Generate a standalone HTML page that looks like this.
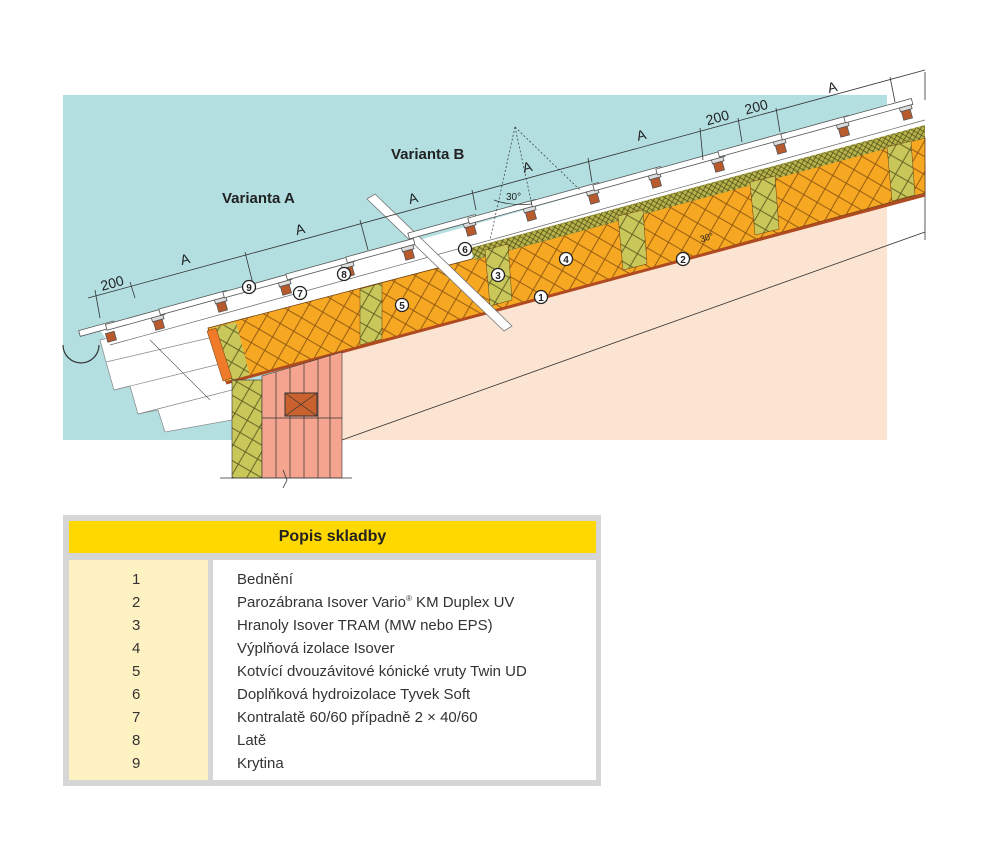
<!DOCTYPE html>
<html><head><meta charset="utf-8"><style>
html,body{margin:0;padding:0;background:#fff;width:1000px;height:850px;overflow:hidden}
svg{position:absolute;left:0;top:0}
.tb{position:absolute;left:63px;top:515px;width:538px;height:271px;background:#d6d6d6}
.hd{position:absolute;left:6px;top:6px;width:527px;height:32px;background:#ffd800;font:bold 16px "Liberation Sans",sans-serif;color:#222;text-align:center;line-height:32px}
.lc{position:absolute;left:6px;top:45px;width:139px;height:220px;background:#fff2c2}
.rc{position:absolute;left:150px;top:45px;width:383px;height:220px;background:#fff}
.row{position:absolute;font:15px "Liberation Sans",sans-serif;color:#333;height:23px;line-height:23px}
</style></head><body>
<svg width="1000" height="850" viewBox="0 0 1000 850">
<defs>
<pattern id="ins" width="22" height="22" patternUnits="userSpaceOnUse" patternTransform="rotate(-15)">
<rect width="22" height="22" fill="#f7a823"/>
<path d="M0,0 L22,22 M22,0 L0,22" stroke="#8a5310" stroke-width="0.9"/>
</pattern>
<pattern id="grn" width="20" height="20" patternUnits="userSpaceOnUse" patternTransform="rotate(-15)">
<rect width="20" height="20" fill="#c9c65a"/>
<path d="M0,0 L20,20 M20,0 L0,20" stroke="#5a5a20" stroke-width="0.9"/>
</pattern>
<pattern id="gth" width="6" height="6" patternUnits="userSpaceOnUse" patternTransform="rotate(-15)">
<rect width="6" height="6" fill="#b7b34a"/>
<path d="M0,0 L6,6 M6,0 L0,6" stroke="#4a4a18" stroke-width="0.7"/>
</pattern>
</defs>
<rect x="63" y="95" width="824" height="345" fill="#b3dfe1"/>
<polygon points="342,350 887,206 887,440 342,440" fill="#fbe4d2"/>
<line x1="342" y1="440" x2="925" y2="232" stroke="#333" stroke-width="0.8"/>
<line x1="925" y1="165" x2="925" y2="240" stroke="#333" stroke-width="0.8"/>
<polygon points="100,340 215,312 236,378 232,420 165,432 158,410 138,414 130,386 114,390 106,362" fill="#fff" stroke="#888" stroke-width="0.7"/>
<line x1="106" y1="362" x2="222" y2="335" stroke="#888" stroke-width="0.7"/>
<line x1="114" y1="390" x2="228" y2="362" stroke="#888" stroke-width="0.7"/>
<line x1="138" y1="414" x2="232" y2="390" stroke="#888" stroke-width="0.7"/>
<line x1="150" y1="340" x2="210" y2="400" stroke="#555" stroke-width="0.6"/>
<polygon points="100,330 925,97 925,128 474,250 470,262 215,327 205,332 110,345" fill="#fff"/>
<line x1="110" y1="345" x2="925" y2="120" stroke="#666" stroke-width="0.7"/>
<polygon points="208,328 472,259 482,250 925,138 925,193 240,380 226,382" fill="url(#ins)" stroke="#6b3d10" stroke-width="0.8"/>
<polygon points="470,248 925,125 925,138 475,260" fill="url(#gth)"/>
<polygon points="212,328 236,322 250,376 230,382" fill="url(#grn)"/>
<polygon points="360,289 382,283 382,339 360,345" fill="url(#grn)" stroke="#6b3d10" stroke-width="0.5"/>
<polygon points="485,250 508,244 512,300 490,306" fill="url(#grn)" stroke="#6b3d10" stroke-width="0.5"/>
<polygon points="618,216 643,210 647,264 623,270" fill="url(#grn)" stroke="#6b3d10" stroke-width="0.5"/>
<polygon points="750,182 775,176 779,229 755,235" fill="url(#grn)" stroke="#6b3d10" stroke-width="0.5"/>
<polygon points="887,147 911,141 915,195 892,201" fill="url(#grn)" stroke="#6b3d10" stroke-width="0.5"/>
<line x1="226" y1="383" x2="925" y2="195" stroke="#b04a20" stroke-width="3"/>
<polygon points="207,331 216,328 232,378 223,381" fill="#ef7a2a" stroke="#6b3d10" stroke-width="0.5"/>
<rect x="232" y="380" width="30" height="98" fill="url(#grn)" stroke="#333" stroke-width="0.6"/>
<polygon points="262,376 342,352 342,478 262,478" fill="#f4a48f" stroke="#333" stroke-width="0.6"/>
<g stroke="#333" stroke-width="0.7">
<line x1="276" y1="372" x2="276" y2="478"/><line x1="290" y1="368" x2="290" y2="478"/><line x1="304" y1="364" x2="304" y2="478"/><line x1="318" y1="359" x2="318" y2="478"/><line x1="330" y1="355" x2="330" y2="478"/>
<line x1="262" y1="418" x2="342" y2="418"/>
<line x1="220" y1="478" x2="352" y2="478"/>
</g>
<rect x="285" y="393" width="32" height="23" fill="#c9622e" stroke="#333"/>
<path d="M285,393 L317,416 M317,393 L285,416" stroke="#333" stroke-width="0.7"/>
<path d="M283,470 L287,480 L283,488" fill="none" stroke="#333" stroke-width="0.8"/>
<polygon points="367,199 375,194 512,326 504,331" fill="#fff" stroke="#777" stroke-width="0.8"/>
<path d="M63,345 A18,18 0 0 0 99,345" fill="none" stroke="#333" stroke-width="1.2"/>
<g stroke="#555" stroke-width="0.8">
<g transform="translate(107,328) rotate(-15.4)"><rect x="-28" y="-5" width="36" height="6" fill="#fff"/><rect x="-3" y="5" width="9" height="9" fill="#b85a2c"/></g>
<g transform="translate(155,316) rotate(-15.4)"><rect x="-50" y="-5" width="60" height="6" fill="#fff"/><rect x="-4" y="1" width="12" height="4" fill="#ddd"/><rect x="-3" y="5" width="9" height="9" fill="#b85a2c"/></g>
<g transform="translate(218,298) rotate(-15.4)"><rect x="-60" y="-5" width="70" height="6" fill="#fff"/><rect x="-4" y="1" width="12" height="4" fill="#ddd"/><rect x="-3" y="5" width="9" height="9" fill="#b85a2c"/></g>
<g transform="translate(282,281) rotate(-15.4)"><rect x="-60" y="-5" width="70" height="6" fill="#fff"/><rect x="-4" y="1" width="12" height="4" fill="#ddd"/><rect x="-3" y="5" width="9" height="9" fill="#b85a2c"/></g>
<g transform="translate(345,263) rotate(-15.4)"><rect x="-60" y="-5" width="70" height="6" fill="#fff"/><rect x="-4" y="1" width="12" height="4" fill="#ddd"/><rect x="-3" y="5" width="9" height="9" fill="#b85a2c"/></g>
<g transform="translate(405,246) rotate(-15.4)"><rect x="-60" y="-5" width="70" height="6" fill="#fff"/><rect x="-4" y="1" width="12" height="4" fill="#ddd"/><rect x="-3" y="5" width="9" height="9" fill="#b85a2c"/></g>
<g transform="translate(467,222) rotate(-15.4)"><rect x="-60" y="-5" width="70" height="6" fill="#fff"/><rect x="-4" y="1" width="12" height="4" fill="#ddd"/><rect x="-3" y="5" width="9" height="9" fill="#b85a2c"/></g>
<g transform="translate(527,207) rotate(-15.4)"><rect x="-60" y="-5" width="70" height="6" fill="#fff"/><rect x="-4" y="1" width="12" height="4" fill="#ddd"/><rect x="-3" y="5" width="9" height="9" fill="#b85a2c"/></g>
<g transform="translate(590,190) rotate(-15.4)"><rect x="-60" y="-5" width="70" height="6" fill="#fff"/><rect x="-4" y="1" width="12" height="4" fill="#ddd"/><rect x="-3" y="5" width="9" height="9" fill="#b85a2c"/></g>
<g transform="translate(652,174) rotate(-15.4)"><rect x="-60" y="-5" width="70" height="6" fill="#fff"/><rect x="-4" y="1" width="12" height="4" fill="#ddd"/><rect x="-3" y="5" width="9" height="9" fill="#b85a2c"/></g>
<g transform="translate(715,158) rotate(-15.4)"><rect x="-60" y="-5" width="70" height="6" fill="#fff"/><rect x="-4" y="1" width="12" height="4" fill="#ddd"/><rect x="-3" y="5" width="9" height="9" fill="#b85a2c"/></g>
<g transform="translate(777,140) rotate(-15.4)"><rect x="-60" y="-5" width="70" height="6" fill="#fff"/><rect x="-4" y="1" width="12" height="4" fill="#ddd"/><rect x="-3" y="5" width="9" height="9" fill="#b85a2c"/></g>
<g transform="translate(840,123) rotate(-15.4)"><rect x="-60" y="-5" width="70" height="6" fill="#fff"/><rect x="-4" y="1" width="12" height="4" fill="#ddd"/><rect x="-3" y="5" width="9" height="9" fill="#b85a2c"/></g>
<g transform="translate(903,106) rotate(-15.4)"><rect x="-60" y="-5" width="70" height="6" fill="#fff"/><rect x="-4" y="1" width="12" height="4" fill="#ddd"/><rect x="-3" y="5" width="9" height="9" fill="#b85a2c"/></g>
</g>
<g stroke="#333" stroke-width="0.8" fill="none">
<line x1="88" y1="298" x2="925" y2="70"/>
<line x1="95" y1="290" x2="100" y2="318"/><line x1="130" y1="282" x2="135" y2="298"/>
<line x1="245" y1="252" x2="253" y2="284"/><line x1="360" y1="220" x2="368" y2="250"/>
<line x1="472" y1="190" x2="476" y2="210"/><line x1="588" y1="158" x2="592" y2="182"/>
<line x1="700" y1="128" x2="703" y2="160"/><line x1="738" y1="118" x2="742" y2="142"/>
<line x1="776" y1="108" x2="780" y2="132"/><line x1="890" y1="77" x2="895" y2="102"/>
<line x1="925" y1="72" x2="925" y2="100"/>
</g>
<g stroke="#333" stroke-width="0.7" stroke-dasharray="2,2" fill="none">
<line x1="515" y1="127" x2="490" y2="240"/><line x1="515" y1="127" x2="532" y2="205"/><line x1="515" y1="127" x2="580" y2="190"/>
</g>
<path d="M494,200 Q510,206 532,204" fill="none" stroke="#333" stroke-width="0.7"/>
<g font-family="Liberation Sans,sans-serif" fill="#222" font-size="14">
<text x="100" y="289" transform="rotate(-15 108 282)">200</text>
<text x="180" y="264" transform="rotate(-15 185 258)">A</text>
<text x="295" y="234" transform="rotate(-15 300 228)">A</text>
<text x="408" y="203" transform="rotate(-15 413 197)">A</text>
<text x="522" y="172" transform="rotate(-15 527 165)">A</text>
<text x="636" y="140" transform="rotate(-15 641 133)">A</text>
<text x="705" y="123" transform="rotate(-15 715 115)">200</text>
<text x="744" y="112" transform="rotate(-15 755 105)">200</text>
<text x="827" y="92" transform="rotate(-15 832 85)">A</text>
<text x="506" y="200" font-size="10">30°</text>
<text x="700" y="241" font-size="9" transform="rotate(-15 705 238)">30°</text>
<text x="222" y="203" font-weight="bold" font-size="15">Varianta A</text>
<text x="391" y="159" font-weight="bold" font-size="15">Varianta B</text>
</g>
<g font-family="Liberation Sans,sans-serif" font-size="10" font-weight="bold" text-anchor="middle" fill="#222">
<g stroke="#222" stroke-width="1.3" fill="#fff">
<circle cx="541" cy="297" r="6.5"/><circle cx="683" cy="259" r="6.5"/><circle cx="498" cy="275" r="6.5"/><circle cx="566" cy="259" r="6.5"/><circle cx="402" cy="305" r="6.5"/><circle cx="465" cy="249" r="6.5"/><circle cx="300" cy="293" r="6.5"/><circle cx="344" cy="274" r="6.5"/><circle cx="249" cy="287" r="6.5"/>
</g>
<text x="541" y="301">1</text><text x="683" y="263">2</text><text x="498" y="279">3</text><text x="566" y="263">4</text><text x="402" y="309">5</text><text x="465" y="253">6</text><text x="300" y="297">7</text><text x="344" y="278">8</text><text x="249" y="291">9</text>
</g>
</svg>
<div class="tb">
<div class="hd">Popis skladby</div>
<div class="lc"></div>
<div class="rc"></div>
<div class="row" style="left:69px;top:53px">1</div>
<div class="row" style="left:69px;top:76px">2</div>
<div class="row" style="left:69px;top:99px">3</div>
<div class="row" style="left:69px;top:122px">4</div>
<div class="row" style="left:69px;top:145px">5</div>
<div class="row" style="left:69px;top:168px">6</div>
<div class="row" style="left:69px;top:191px">7</div>
<div class="row" style="left:69px;top:214px">8</div>
<div class="row" style="left:69px;top:237px">9</div>
<div class="row" style="left:174px;top:53px">Bednění</div>
<div class="row" style="left:174px;top:76px">Parozábrana Isover Vario<sup style="font-size:8px;line-height:0">®</sup> KM Duplex UV</div>
<div class="row" style="left:174px;top:99px">Hranoly Isover TRAM (MW nebo EPS)</div>
<div class="row" style="left:174px;top:122px">Výplňová izolace Isover</div>
<div class="row" style="left:174px;top:145px">Kotvící dvouzávitové kónické vruty Twin UD</div>
<div class="row" style="left:174px;top:168px">Doplňková hydroizolace Tyvek Soft</div>
<div class="row" style="left:174px;top:191px">Kontralatě 60/60 případně 2 × 40/60</div>
<div class="row" style="left:174px;top:214px">Latě</div>
<div class="row" style="left:174px;top:237px">Krytina</div>
</div>
</body></html>
